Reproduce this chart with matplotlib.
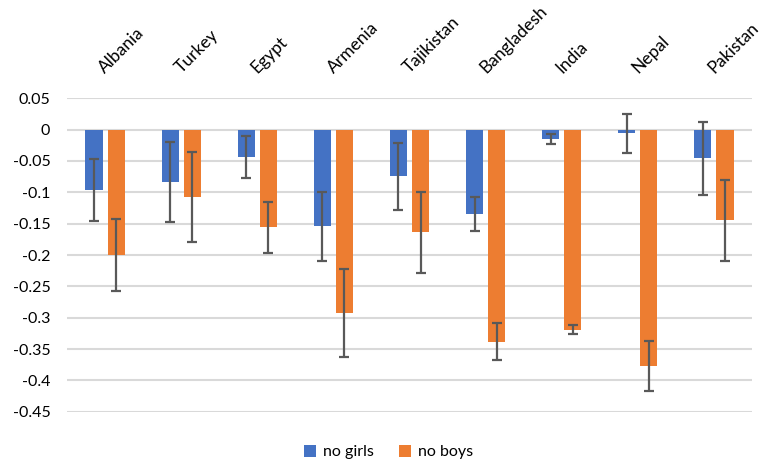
import numpy as np
import matplotlib
matplotlib.use("Agg")
import matplotlib.pyplot as plt
from matplotlib.ticker import FixedLocator, FuncFormatter
from matplotlib.transforms import ScaledTranslation

plt.rcParams['font.family'] = ['Lato', 'DejaVu Sans']

countries = ["Albania", "Turkey", "Egypt", "Armenia", "Tajikistan",
             "Bangladesh", "India", "Nepal", "Pakistan"]

# effect estimates and error margins
no_girls = [-0.096, -0.0835, -0.0435, -0.154, -0.0745, -0.135, -0.0144, -0.0058, -0.046]
no_girls_err = [0.049, 0.0645, 0.0335, 0.055, 0.054, 0.027, 0.008, 0.031, 0.0588]
no_boys = [-0.2, -0.1075, -0.156, -0.292, -0.1638, -0.338, -0.319, -0.377, -0.1444]
no_boys_err = [0.057, 0.0725, 0.04, 0.070, 0.0648, 0.0295, 0.0077, 0.0394, 0.0646]

yticks = [0.05, 0, -0.05, -0.1, -0.15, -0.2, -0.25, -0.3, -0.35, -0.4, -0.45]

blue = "#4472C4"
orange = "#ED7D31"
err_color = "#595959"

fig = plt.figure(figsize=(7.62, 4.59), dpi=100)
ax = fig.add_axes([0.0879, 0.103, 0.899, 0.6828])

x = np.arange(len(countries))
w = 0.225
off = 0.145
err_kw = dict(ecolor=err_color, elinewidth=1.6, capsize=3.3, capthick=1.6)

ax.bar(x - off, no_girls, w, color=blue, yerr=no_girls_err, error_kw=err_kw,
       label="no girls", zorder=3)
ax.bar(x + off, no_boys, w, color=orange, yerr=no_boys_err, error_kw=err_kw,
       label="no boys", zorder=3)

ax.set_xlim(-0.5, len(countries) - 0.5)
ax.set_ylim(-0.45, 0.05)
ax.yaxis.set_major_locator(FixedLocator(yticks))
ax.yaxis.set_major_formatter(FuncFormatter(lambda v, p: "0" if abs(v) < 1e-9 else f"{v:g}"))
ax.grid(axis="y", color="#d9d9d9", linewidth=1.5, zorder=0)
ax.set_axisbelow(True)
for s in ax.spines.values():
    s.set_visible(False)

ax.xaxis.tick_top()
ax.set_xticks(x)
ax.set_xticklabels(countries, rotation=45, ha="left", va="bottom",
                   rotation_mode="anchor", fontsize=12.5, color="#000000")
ax.tick_params(axis="x", length=0, pad=16)
ax.tick_params(axis="y", length=0, labelsize=11.5, pad=12)

# nudge the country names a little to the right
shift = ScaledTranslation(2.5 / 100, 0, fig.dpi_scale_trans)
for lbl in ax.get_xticklabels():
    lbl.set_transform(lbl.get_transform() + shift)

fig.legend(loc="upper center", bbox_to_anchor=(0.51, 0.062), ncol=2, frameon=False,
           fontsize=11.5, handlelength=0.75, handleheight=0.75, handletextpad=0.4,
           columnspacing=1.6)

fig.savefig("out.png", dpi=100)
